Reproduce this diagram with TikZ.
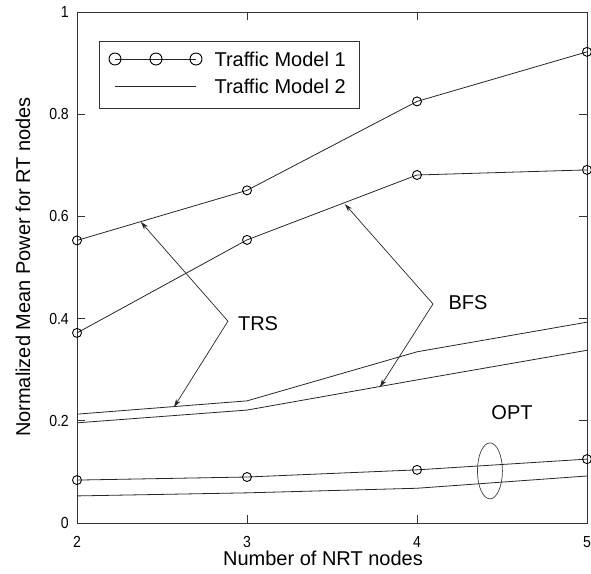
\documentclass[tikz,border=0pt]{standalone}
\usepackage{fontspec}
\setmainfont{Liberation Sans}
\usepackage{tikz}
\usetikzlibrary{arrows.meta}
\usetikzlibrary{calc}

\tikzset{
  curve/.style={line width=0.8pt,draw=black!85},
  mk/.style={draw=black,line width=0.9pt,fill=none},
  annot/.style={line width=0.7pt,draw=black!85,-{Stealth[length=8pt,width=5pt]}},
  lbl/.style={font=\fontsize{20}{20}\selectfont},
  ticklbl/.style={font=\fontsize{16}{16}\selectfont,inner sep=0pt,xscale=0.88}
}

\begin{document}
\begin{tikzpicture}[x=1pt,y=1pt]
\useasboundingbox (0,0) rectangle (591,573);
\begin{scope}[x=170pt,y=511pt,shift={(-263pt,50pt)}]
				% frame and ticks
				\draw[line width=0.9pt,black!80] (2,0) rectangle (5,1);
				\foreach \xv in {2,3,4,5} {
					\draw[line width=0.8pt,black!80] (\xv,0) -- +(0,8pt);
					\draw[line width=0.8pt,black!80] (\xv,1) -- +(0,-8pt);
					\node[ticklbl] (XT\xv) at ($(\xv,0)+(0,-19pt)$) {\xv};
				}
				\foreach \yv/\yl in {0/0,0.2/0.2,0.4/0.4,0.6/0.6,0.8/0.8,1/1} {
					\draw[line width=0.8pt,black!80] (2,\yv) -- +(8pt,0);
					\draw[line width=0.8pt,black!80] (5,\yv) -- +(-8pt,0);
					\node[ticklbl,anchor=east] (YT\yl) at ($(2,\yv)+(-8pt,0)$) {\yl};
				}
				% traffic model 1
				\draw[curve] plot coordinates {(2,0.553) (3,0.651) (4,0.825) (5,0.922)};
				\draw[curve] plot coordinates {(2,0.372) (3,0.554) (4,0.681) (5,0.691)};
				\draw[curve] plot coordinates {(2,0.084) (3,0.090) (4,0.104) (5,0.125)};
				\foreach \px/\py in {2/0.553,3/0.651,4/0.825,5/0.922,2/0.372,3/0.554,4/0.681,5/0.691,2/0.084,3/0.090,4/0.104,5/0.125}
					\draw[mk] (\px,\py) circle (4.5pt);
				% traffic model 2
				\draw[curve] plot coordinates {(2,0.213) (3,0.239) (4,0.335) (5,0.393)};
				\draw[curve] plot coordinates {(2,0.196) (3,0.221) (4,0.280) (5,0.338)};
				\draw[curve] plot coordinates {(2,0.053) (3,0.059) (4,0.068) (5,0.092)};
				% annotations
				\coordinate (TRS_V) at (2.888,0.395);
				\coordinate (TRS_A) at (2.376,0.589);
				\coordinate (TRS_B) at (2.571,0.227);
				\coordinate (BFS_V) at (4.094,0.4286);
				\coordinate (BFS_A) at (3.576,0.624);
				\coordinate (BFS_B) at (3.782,0.266);
				\node[lbl] (TRS) at (3.065,0.391) {TRS};
				\node[lbl] (BFS) at (4.30,0.432) {BFS};
				\node[lbl] (OPT) at (4.559,0.217) {OPT};
				\draw[annot] (TRS_V) -- (TRS_A);
				\draw[annot] (TRS_V) -- (TRS_B);
				\draw[annot] (BFS_V) -- (BFS_A);
				\draw[annot] (BFS_V) -- (BFS_B);
				\draw[line width=0.7pt,black!75] (4.429,0.102) ellipse (12.5pt and 28pt);
\end{scope}
				% legend
				\draw[line width=0.8pt,black!80] (99,465) rectangle (359,532);
				\coordinate (LG1a) at (115,514);
				\coordinate (LG1b) at (196,514);
				\coordinate (LG2a) at (115,487);
				\coordinate (LG2b) at (196,487);
				\draw[curve] (LG1a) -- (LG1b);
				\foreach \lx in {115,156,196} \draw[mk] (\lx,514) circle (6pt);
				\draw[curve] (LG2a) -- (LG2b);
				\node[lbl,anchor=west] (LEG1) at (211,514) {Traffic Model 1};
				\node[lbl,anchor=west] (LEG2) at (211,487) {Traffic Model 2};
				% axis labels
				\node[lbl] (XLABEL) at (323,15) {Number of NRT nodes};
				\node[lbl,rotate=90] (YLABEL) at (23,306) {Normalized Mean Power for RT nodes};
\end{tikzpicture}
\end{document}
